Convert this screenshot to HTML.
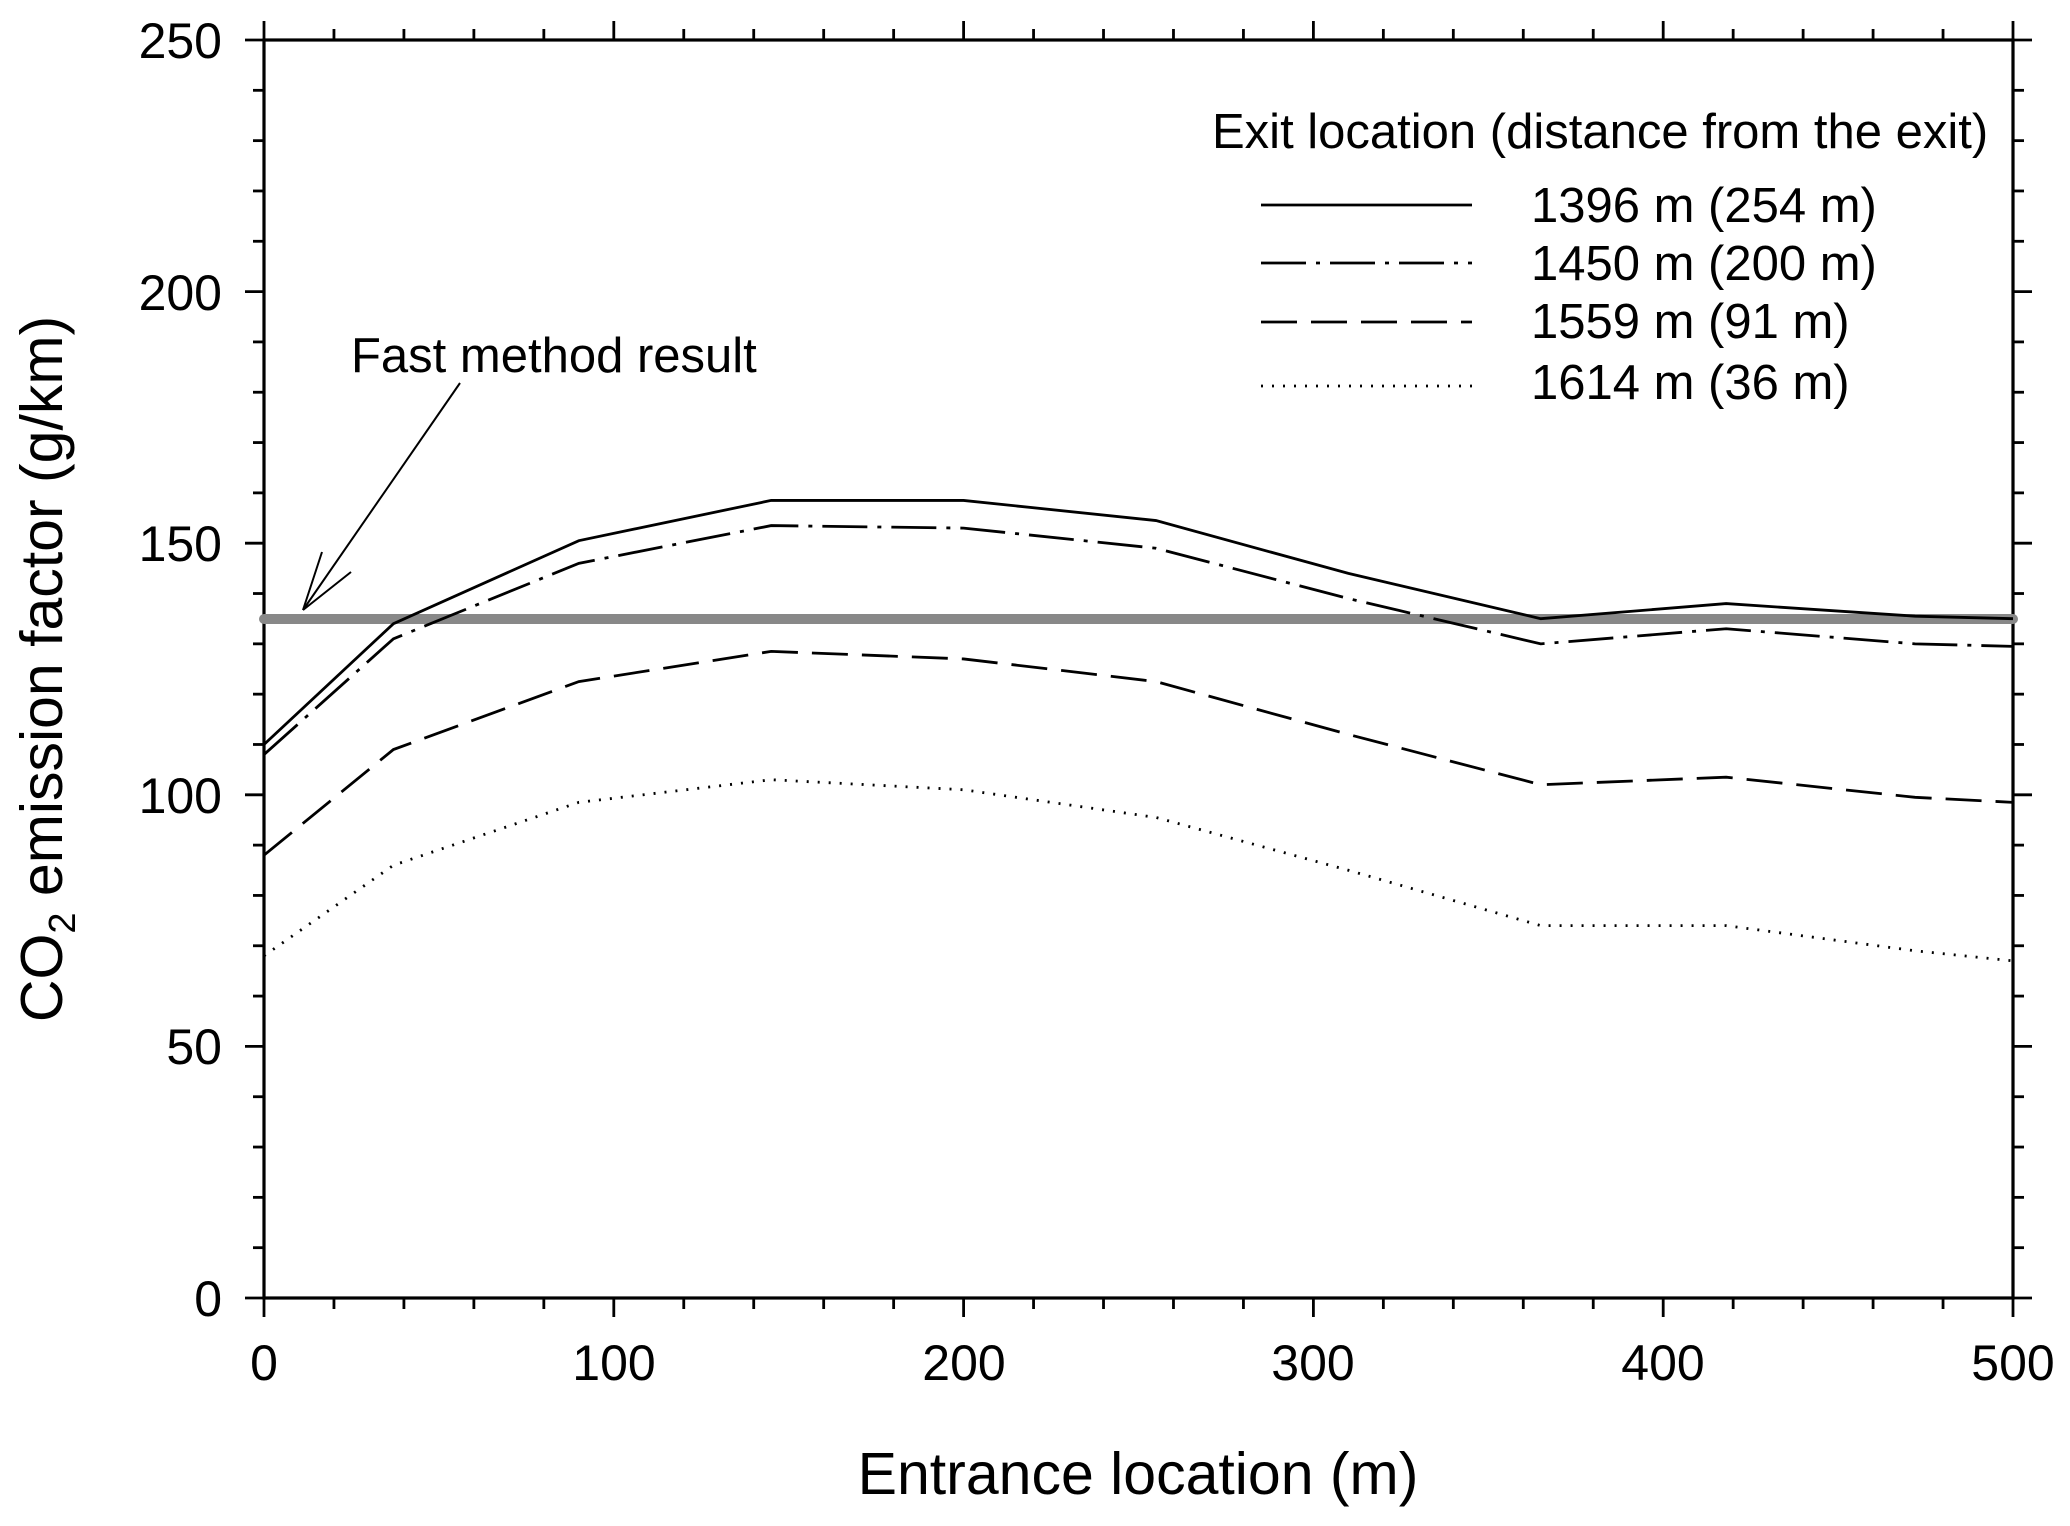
<!DOCTYPE html>
<html><head><meta charset="utf-8"><style>body{margin:0;background:#fff}svg{display:block}text{font-family:"Liberation Sans",Arial,sans-serif;fill:#000}</style></head><body>
<svg width="2070" height="1526" viewBox="0 0 2070 1526" xmlns="http://www.w3.org/2000/svg">
<g id="ticks" stroke="#000" stroke-width="2.8"></g>
<rect x="264" y="40" width="1749" height="1258" fill="none" stroke="#000" stroke-width="3.2"/>
<g font-size="50" text-anchor="end">
<text x="222" y="1316">0</text><text x="222" y="1064">50</text><text x="222" y="813">100</text><text x="222" y="561">150</text><text x="222" y="310">200</text><text x="222" y="58">250</text>
</g>
<g font-size="50" text-anchor="middle">
<text x="264" y="1380">0</text><text x="614" y="1380">100</text><text x="964" y="1380">200</text><text x="1313" y="1380">300</text><text x="1663" y="1380">400</text><text x="2013" y="1380">500</text>
</g>
<text x="1138" y="1494" font-size="59" text-anchor="middle">Entrance location (m)</text>
<text transform="translate(62,669) rotate(-90)" font-size="59" text-anchor="middle">CO<tspan font-size="38" dy="13">2</tspan><tspan dy="-13"> emission factor (g/km)</tspan></text>
<line x1="264" y1="619" x2="2013" y2="619" stroke="#888" stroke-width="10" stroke-linecap="round"/>
<g fill="none" stroke="#000" stroke-width="2.8" id="series"></g>
<line x1="460" y1="383" x2="303" y2="610" stroke="#000" stroke-width="2"/>
<line x1="322" y1="552" x2="303" y2="610" stroke="#000" stroke-width="2"/>
<line x1="351" y1="572" x2="303" y2="610" stroke="#000" stroke-width="2"/>
<text x="351" y="372" font-size="49">Fast method result</text>
<text x="1212" y="148" font-size="49">Exit location (distance from the exit)</text>
<g stroke="#000" stroke-width="2.8">
<line x1="1261" y1="205" x2="1472" y2="205"/>
<line x1="1261" y1="263" x2="1472" y2="263" stroke-dasharray="45,10,4,10"/>
<line x1="1261" y1="322" x2="1472" y2="322" stroke-dasharray="36,14"/>
<line x1="1261" y1="386" x2="1472" y2="386" stroke-dasharray="2,9"/>
</g>
<g font-size="49">
<text x="1531" y="222">1396 m (254 m)</text>
<text x="1531" y="280">1450 m (200 m)</text>
<text x="1531" y="338">1559 m (91 m)</text>
<text x="1531" y="399">1614 m (36 m)</text>
</g>
<script>
var X=v=>264+v*3.498,Y=v=>1298-v*5.032,ns="http://www.w3.org/2000/svg";
var t=document.getElementById("ticks");
function L(a,b,c,d){var l=document.createElementNS(ns,"line");l.setAttribute("x1",a);l.setAttribute("y1",b);l.setAttribute("x2",c);l.setAttribute("y2",d);t.appendChild(l);}
for(var v=0;v<=250;v+=10){var m=v%50==0,len=m?19:11,y=Y(v);L(264-len,y,264,y);L(2013,y,2013+len,y);}
for(var v=0;v<=500;v+=20){var m=v%100==0,len=m?19:11,x=X(v);L(x,1298,x,1298+len);L(x,40-len,x,40);}
var xs=[0,37,90,145,200,255,310,365,418,472,500];
var d=[[110,134,150.5,158.5,158.5,154.5,144,135,138,135.5,135],[108,131,146,153.5,153,149,139,130,133,130,129.5],[88,109,122.5,128.5,127,122.5,112,102,103.5,99.5,98.5],[68,86,98.5,103,101,95.5,85,74,74,69,67]];
var da=["","45,10,4,10","36,14","2,9"];
var s=document.getElementById("series");
d.forEach(function(r,i){var p=document.createElementNS(ns,"polyline");p.setAttribute("points",r.map((v,j)=>X(xs[j])+","+Y(v)).join(" "));if(da[i])p.setAttribute("stroke-dasharray",da[i]);s.appendChild(p);});
</script>
</svg>
</body></html>
